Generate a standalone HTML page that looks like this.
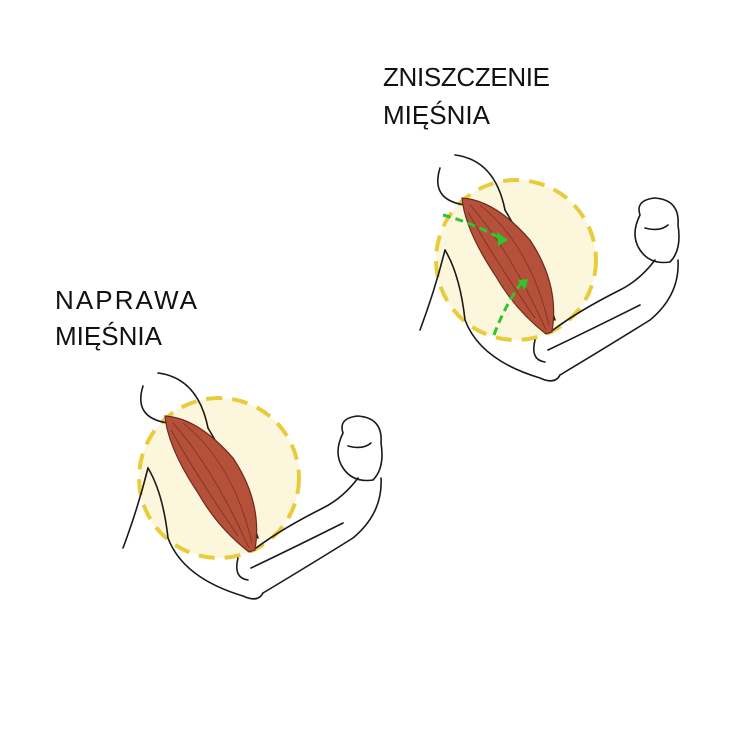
<!DOCTYPE html>
<html><head><meta charset="utf-8"><style>
html,body{margin:0;padding:0;background:#fff;}
svg{display:block}
text{font-family:"Liberation Sans",sans-serif;font-size:26px;fill:#111;}
</style></head><body>
<svg width="750" height="750" viewBox="0 0 750 750">
<defs>
<g id="arm">
  <circle cx="516" cy="260" r="80" fill="#fcf7dc" stroke="#e9cc3c" stroke-width="4" stroke-dasharray="16 10"/>
  <g fill="none" stroke="#1a1a1a" stroke-width="1.6" stroke-linecap="round">
    <path d="M455 155 Q495 160 505 210"/>
    <path d="M440 168 Q430 200 465 205"/>
    <path d="M445 250 Q460 275 465 320 Q480 360 540 378 Q555 385 560 375"/>
    <path d="M420 330 Q435 290 445 250"/>
    <path d="M505 210 Q535 260 555 320"/>
    <path d="M553 330 Q580 310 620 290 Q640 280 655 260"/>
    <path d="M560 375 Q610 345 650 320 Q680 295 678 260"/>
    <path d="M548 350 Q590 330 640 305"/>
    <path d="M640 215 Q635 200 655 198 Q680 200 678 225 Q682 250 670 262 Q650 265 640 250 Q630 235 640 215"/>
    <path d="M645 228 Q660 232 668 225"/>
    <path d="M535 340 Q530 360 545 362"/>
  </g>
  <path d="M462 198 Q495 200 530 240 Q560 285 552 332 L546 334 Q515 310 495 275 Q465 230 462 198 Z" fill="#b5503a" stroke="#6b2a1e" stroke-width="1.2"/>
  <g fill="none" stroke="#7e3020" stroke-width="0.8">
    <path d="M470 205 Q510 250 546 330"/>
    <path d="M480 205 Q530 245 549 325"/>
    <path d="M468 212 Q495 260 535 318"/>
  </g>
</g>
</defs>
<g>
  <use href="#arm"/>
  <g fill="none" stroke="#2ec62e" stroke-width="3" stroke-dasharray="8 5">
    <path d="M443 215 Q470 222 500 238"/>
    <path d="M494 335 Q505 305 522 282"/>
  </g>
  <path d="M497 232 L508 240 L498 246 Z" fill="#2ec62e"/>
  <path d="M518 280 L528 279 L525 290 Z" fill="#2ec62e"/>
</g>
<g transform="translate(-297,218)">
  <use href="#arm"/>
</g>
<text x="383" y="86" textLength="167">ZNISZCZENIE</text>
<text x="383" y="124">MIĘŚNIA</text>
<text x="55" y="309" textLength="142">NAPRAWA</text>
<text x="55" y="345">MIĘŚNIA</text>
</svg>
</body></html>
